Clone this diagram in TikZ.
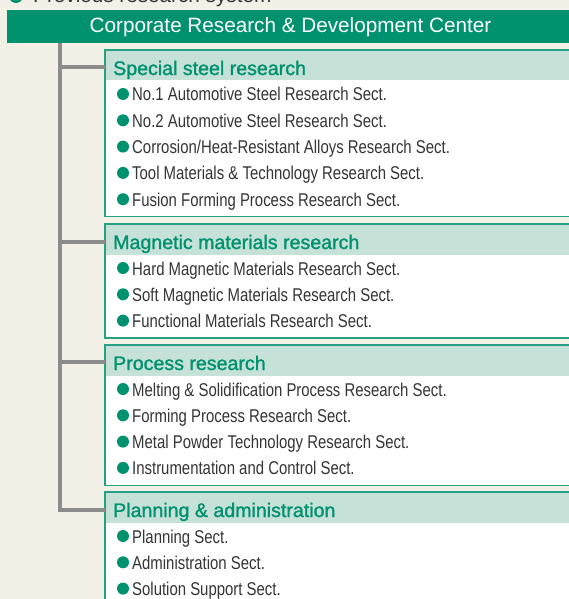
\documentclass[tikz,border=0pt]{standalone}
\usepackage{fontspec}
\setmainfont{Liberation Sans}
\newfontfamily\condfont[FakeStretch=0.807]{Liberation Sans}
\newfontfamily\headfont[FakeBold=1.3]{Liberation Sans}
\definecolor{bgc}{HTML}{F3F0E7}
\definecolor{teal1}{HTML}{00916F}
\definecolor{tealb}{HTML}{24A083}
\definecolor{headg}{HTML}{C6E1D8}
\definecolor{spinec}{HTML}{8C8C8C}
\definecolor{txt}{HTML}{353535}
\tikzset{
  secbox/.style={draw=tealb, line width=1.4pt, fill=white, anchor=north west,
    minimum width=520pt, inner sep=0pt, outer sep=0pt,
    path picture={\fill[headg] (path picture bounding box.north west) rectangle ([yshift=-30.5pt]path picture bounding box.north east);}},
  headtext/.style={anchor=base west, inner sep=0pt, text=teal1, font=\headfont\fontsize{19.6}{21}\selectfont},
  itemtext/.style={anchor=base west, inner sep=0pt, text=txt, font=\condfont\fontsize{18.5}{20}\selectfont},
  spine/.style={draw=spinec, line width=3.5pt, line join=miter, line cap=butt},
  bullet/.style={fill=teal1}
}
\begin{document}
\begin{tikzpicture}[x=1pt,y=-1pt]
\useasboundingbox (0,0) rectangle (569,599);
\clip (0,0) rectangle (569,599);
\fill[bgc] (0,0) rectangle (569,599);

% cut-off caption at top
\fill[teal1] (16,-4) circle (7);
\node[anchor=base west, inner sep=0pt, text=txt, font=\fontsize{20.7}{22}\selectfont] (cap) at (33,3) {Previous research system};

% top bar
\node[fill=teal1, anchor=north west, minimum width=600pt, minimum height=33pt, inner sep=0pt, outer sep=0pt] (top) at (7,10) {};
\node[anchor=base, inner sep=0pt, text=white, font=\fontsize{20.7}{22}\selectfont] (toptext) at (290.5,33) {Corporate Research \& Development Center};

% boxes
\node[secbox, minimum height=166.5pt] (b1) at (105,50) {};
\node[secbox, minimum height=114pt] (b2) at (105,224) {};
\node[secbox, minimum height=140.4pt] (b3) at (105,345) {};
\node[secbox, minimum height=140pt] (b4) at (105,492) {};

% headers
\node[headtext] (h1) at (113,75) {Special steel research};
\node[headtext] (h2) at (113,249) {Magnetic materials research};
\node[headtext] (h3) at (113,370) {Process research};
\node[headtext] (h4) at (113,517) {Planning \& administration};

% items
\foreach \t [count=\i] in {{No.1 Automotive Steel Research Sect.},{No.2 Automotive Steel Research Sect.},{Corrosion/Heat-Resistant Alloys Research Sect.},{Tool Materials \& Technology Research Sect.},{Fusion Forming Process Research Sect.}}{
  \node[itemtext] (a\i) at (132,{101+(\i-1)*26.3}) {\t};
  \fill[bullet] ([shift={(-9,-7)}]a\i.base west) circle (6);
}
\foreach \t [count=\i] in {{Hard Magnetic Materials Research Sect.},{Soft Magnetic Materials Research Sect.},{Functional Materials Research Sect.}}{
  \node[itemtext] (m\i) at (132,{275+(\i-1)*26.3}) {\t};
  \fill[bullet] ([shift={(-9,-7)}]m\i.base west) circle (6);
}
\foreach \t [count=\i] in {{Melting \& Solidification Process Research Sect.},{Forming Process Research Sect.},{Metal Powder Technology Research Sect.},{Instrumentation and Control Sect.}}{
  \node[itemtext] (p\i) at (132,{396+(\i-1)*26.3}) {\t};
  \fill[bullet] ([shift={(-9,-7)}]p\i.base west) circle (6);
}
\foreach \t [count=\i] in {{Planning Sect.},{Administration Sect.},{Solution Support Sect.}}{
  \node[itemtext] (q\i) at (132,{543+(\i-1)*26.3}) {\t};
  \fill[bullet] ([shift={(-9,-7)}]q\i.base west) circle (6);
}

% spine connectors
\coordinate (s0) at (60,43);
\coordinate (k1) at (60,67);
\coordinate (k2) at (60,242);
\coordinate (k3) at (60,362);
\coordinate (k4) at (60,510);
\draw[spine] (s0) -- (k4) -- (k4 -| b4.west);
\draw[spine] (k1) -- (k1 -| b1.west);
\draw[spine] (k2) -- (k2 -| b2.west);
\draw[spine] (k3) -- (k3 -| b3.west);
\end{tikzpicture}
\end{document}
